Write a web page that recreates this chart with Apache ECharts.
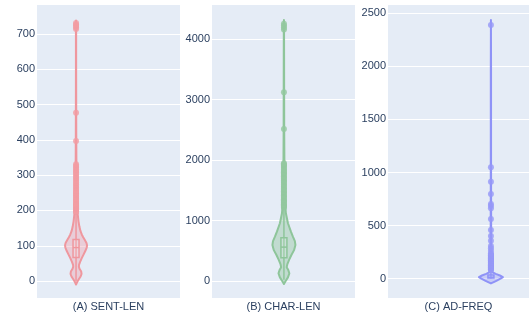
<!DOCTYPE html>
<html>
<head>
<meta charset="utf-8">
<script src="https://cdn.jsdelivr.net/npm/echarts@6/dist/echarts.min.js"></script>
<style>
  html, body { margin: 0; padding: 0; background: #fff; }
  #chart { width: 529px; height: 313px; }
</style>
</head>
<body>
<div id="chart"></div>
<script>
// panel titles
const panelNames = ['(A) SENT-LEN', '(B) CHAR-LEN', '(C) AD-FREQ'];

// tick labels per panel
const sentLenTicks = [0, 100, 200, 300, 400, 500, 600, 700];
const charLenTicks = [0, 1000, 2000, 3000, 4000];
const adFreqTicks = [0, 500, 1000, 1500, 2000, 2500];

// violin outline: value / relative density (1 = widest)
const sentLenKdeY = [-10, -3, 5, 12, 20, 27, 34, 40, 46, 55, 65, 75, 85, 95, 101, 108, 116, 124, 132, 142, 155, 170, 190, 215, 250, 300, 350, 420, 500, 600, 700, 738];
const sentLenKdeW = [0, 0.1, 0.25, 0.4, 0.5, 0.47, 0.33, 0.26, 0.27, 0.38, 0.52, 0.68, 0.84, 0.97, 1, 0.95, 0.8, 0.65, 0.52, 0.4, 0.3, 0.22, 0.15, 0.1, 0.07, 0.05, 0.03, 0.02, 0.015, 0.01, 0.01, 0];
const charLenKdeY = [-50, 0, 60, 127, 180, 226, 280, 350, 430, 510, 595, 660, 732, 820, 955, 1120, 1300, 1600, 2000, 2500, 3100, 3700, 4250, 4314];
const charLenKdeW = [0, 0.15, 0.35, 0.47, 0.38, 0.24, 0.3, 0.45, 0.65, 0.88, 1, 0.95, 0.78, 0.6, 0.35, 0.17, 0.1, 0.06, 0.04, 0.025, 0.02, 0.015, 0.01, 0];
const adFreqKdeY = [-45, -20, 0, 15, 30, 45, 60, 80, 120, 200, 400, 1000, 2000, 2437];
const adFreqKdeW = [0, 0.45, 0.8, 1, 0.75, 0.4, 0.15, 0.08, 0.05, 0.03, 0.02, 0.012, 0.01, 0];

// inner box: [lower whisker, q1, median, q3, upper whisker]
const sentLenBox = [0, 67, 95, 118, 194];
const charLenBox = [20, 385, 560, 716, 1205];
const adFreqBox = [1, 6, 14, 35, 78];

// outlier points
const sentLenOutliers = [196, 198, 201, 204, 206, 209, 212, 215, 217, 220, 224, 227, 231, 234, 238, 241, 245, 249, 252, 256, 261, 265, 270, 274, 279, 284, 289, 293, 298, 303, 308, 312, 317, 322, 326, 331, 397, 477, 714, 719, 723, 727, 731];
const charLenOutliers = [1215, 1232, 1251, 1270, 1292, 1310, 1334, 1352, 1375, 1398, 1417, 1440, 1462, 1483, 1507, 1530, 1552, 1571, 1596, 1618, 1640, 1663, 1685, 1706, 1731, 1752, 1776, 1798, 1820, 1843, 1867, 1889, 1911, 1930, 1946, 2512, 3119, 4158, 4190, 4225, 4252];
const adFreqOutliers = [82, 88, 95, 101, 108, 114, 121, 127, 134, 140, 147, 153, 160, 166, 173, 180, 186, 193, 199, 206, 213, 220, 228, 239, 264, 286, 308, 358, 402, 459, 562, 663, 688, 704, 798, 914, 1049, 2390];

// 面板布局与样式
const panels = [
  { name: panelNames[0], ticks: sentLenTicks, kdeY: sentLenKdeY, kdeW: sentLenKdeW, box: sentLenBox, outliers: sentLenOutliers,
    left: 37, width: 143, pos: 0.273, halfPx: 11, min: -48, max: 782, step: 100,
    line: '#EF979E', fill: 'rgba(240,150,160,0.35)', point: '#F29CA2' },
  { name: panelNames[1], ticks: charLenTicks, kdeY: charLenKdeY, kdeW: charLenKdeW, box: charLenBox, outliers: charLenOutliers,
    left: 212, width: 143, pos: 0.503, halfPx: 11.5, min: -281, max: 4562, step: 1000,
    line: '#8EC59A', fill: 'rgba(140,196,152,0.4)', point: '#93C89F' },
  { name: panelNames[2], ticks: adFreqTicks, kdeY: adFreqKdeY, kdeW: adFreqKdeW, box: adFreqBox, outliers: adFreqOutliers,
    left: 388, width: 141, pos: 0.73, halfPx: 12, min: -182, max: 2578, step: 500,
    line: '#8F93F7', fill: 'rgba(143,147,247,0.35)', point: '#9699F8' }
];

const textColor = '#2a3f5f';
const fontFamily = '"Liberation Sans", Arial, sans-serif';

const chart = echarts.init(document.getElementById('chart'), null, { renderer: 'canvas' });

const grid = [], xAxis = [], yAxis = [], series = [];

panels.forEach((p, i) => {
  grid.push({
    left: p.left, width: p.width, top: 5, bottom: 15, outerBoundsMode: 'none', containLabel: false,
    show: true, backgroundColor: '#E5ECF6', borderWidth: 0
  });
  xAxis.push({
    gridIndex: i, type: 'value', min: 0, max: 1,
    axisLine: { show: false }, axisTick: { show: false }, axisLabel: { show: false }, splitLine: { show: false },
    name: p.name, nameLocation: 'middle', nameGap: 8.5,
    nameTextStyle: { color: textColor, fontSize: 11, fontFamily, verticalAlign: 'middle' }
  });
  yAxis.push({
    gridIndex: i, type: 'value', min: p.min, max: p.max, minInterval: p.step, maxInterval: p.step,
    axisLine: { show: false }, axisTick: { show: false },
    axisLabel: {
      color: textColor, fontSize: 11, fontFamily, margin: 2,
      showMinLabel: false, showMaxLabel: false,
      formatter: (v) => (p.ticks.includes(v) ? String(v) : '')
    },
    splitLine: { show: true, showMinLine: false, showMaxLine: false, lineStyle: { color: '#fff', width: 1 } }
  });

  // violin body + inner box
  series.push({
    type: 'custom', xAxisIndex: i, yAxisIndex: i, silent: true, z: 2,
    data: [[p.pos, p.box[2]]],
    renderItem: (params, api) => {
      const right = [], left = [];
      p.kdeY.forEach((v, k) => {
        const c = api.coord([p.pos, v]);
        right.push([c[0] + p.kdeW[k] * p.halfPx, c[1]]);
        left.push([c[0] - p.kdeW[k] * p.halfPx, c[1]]);
      });
      const pts = right.concat(left.reverse());
      const lo = api.coord([p.pos, p.box[0]]);
      const q1 = api.coord([p.pos, p.box[1]]);
      const med = api.coord([p.pos, p.box[2]]);
      const q3 = api.coord([p.pos, p.box[3]]);
      const hi = api.coord([p.pos, p.box[4]]);
      const bw = 3;
      return {
        type: 'group',
        children: [
          { type: 'polygon', shape: { points: pts }, style: { fill: p.fill, stroke: p.line, lineWidth: 2, lineJoin: 'round' } },
          { type: 'line', shape: { x1: lo[0], y1: lo[1], x2: hi[0], y2: hi[1] }, style: { stroke: p.line, lineWidth: 1.5 } },
          { type: 'rect', shape: { x: q3[0] - bw, y: q3[1], width: bw * 2, height: q1[1] - q3[1] }, style: { fill: 'rgba(255,255,255,0.15)', stroke: p.line, lineWidth: 1.5 } },
          { type: 'line', shape: { x1: med[0] - bw, y1: med[1], x2: med[0] + bw, y2: med[1] }, style: { stroke: p.line, lineWidth: 1.5 } }
        ]
      };
    }
  });

  // outlier points
  series.push({
    type: 'scatter', xAxisIndex: i, yAxisIndex: i, silent: true, z: 3,
    symbol: 'circle', symbolSize: 6,
    itemStyle: { color: p.point },
    data: p.outliers.map((v) => [p.pos, v])
  });
});

chart.setOption({
  animation: false,
  backgroundColor: '#fff',
  textStyle: { fontFamily },
  grid, xAxis, yAxis, series
});
</script>
</body>
</html>
